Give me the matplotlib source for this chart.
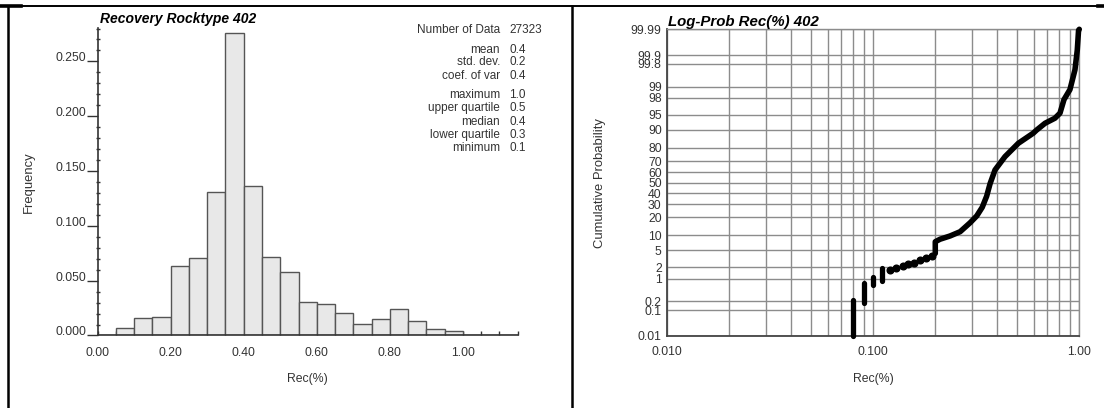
import numpy as np
import matplotlib
matplotlib.use("Agg")
import matplotlib.pyplot as plt
from matplotlib.lines import Line2D
from matplotlib.ticker import MultipleLocator, FixedLocator, NullLocator, NullFormatter, FormatStrFormatter
from statistics import NormalDist

plt.rcParams["font.family"] = ["Liberation Sans", "DejaVu Sans"]

# --- Histogramme : classes de 0.05 et fréquences relatives
bin_lo = np.round(np.arange(0.0, 1.15, 0.05), 2)
freq = [0.0005, 0.0071, 0.0163, 0.0172, 0.0638, 0.0705, 0.1309, 0.2762,
        0.1360, 0.0715, 0.0580, 0.0309, 0.0285, 0.0208, 0.0102, 0.0154,
        0.0239, 0.0130, 0.0062, 0.0038, 0.0, 0.0, 0.0]

stat_names = ["Number of Data", "mean", "std. dev.", "coef. of var",
              "maximum", "upper quartile", "median", "lower quartile", "minimum"]
stat_values = ["27323", "0.4", "0.2", "0.4", "1.0", "0.5", "0.4", "0.3", "0.1"]

# --- Log-prob : valeurs discrètes (paliers verticaux), points isolés, puis courbe continue
step_rec = [0.080, 0.090, 0.100, 0.110]
step_lo = [0.01, 0.17, 0.64, 0.87]
step_hi = [0.22, 0.73, 1.10, 1.90]

dot_rec = [0.120, 0.129, 0.139, 0.148, 0.158, 0.169, 0.180, 0.192]
dot_prob = [1.71, 1.89, 2.17, 2.39, 2.62, 3.05, 3.45, 3.78]

curve_rec = [0.200, 0.200, 0.211, 0.236, 0.264, 0.295, 0.318, 0.338, 0.355,
             0.369, 0.390, 0.436, 0.506, 0.598, 0.621, 0.682, 0.762, 0.806,
             0.843, 0.901, 0.953, 0.978, 0.992, 1.000]
curve_prob = [4.3, 7.6, 8.5, 9.8, 11.7, 16.5, 21.0, 27.5, 37.0,
              49.0, 62.1, 73.6, 83.0, 88.5, 89.9, 92.5, 94.1, 95.4,
              97.8, 98.8, 99.69, 99.935, 99.989, 99.99]

prob_ticks = [0.01, 0.1, 0.2, 1, 2, 5, 10, 20, 30, 40, 50, 60, 70, 80,
              90, 95, 98, 99, 99.8, 99.9, 99.99]
prob_labels = ["0.01", "0.1", "0.2", "1", "2", "5", "10", "20", "30", "40", "50",
               "60", "70", "80", "90", "95", "98", "99", "99.8", "99.9", "99.99"]

TXT = "#333333"
FS = 8.8
FS_LAB = 9.4

_nd = NormalDist()
_ppf = np.vectorize(_nd.inv_cdf, otypes=[float])
_cdf = np.vectorize(_nd.cdf, otypes=[float])


def prob_to_z(p):
    p = np.clip(np.asarray(p, dtype=float) / 100.0, 1e-7, 1 - 1e-7)
    return _ppf(p)


def z_to_prob(z):
    return _cdf(np.asarray(z, dtype=float)) * 100.0


fig = plt.figure(figsize=(11.04, 4.08), dpi=100)
fig.patch.set_facecolor("white")

# Cadre type tableau
line_kw = dict(color="black", transform=fig.transFigure)
fig.add_artist(Line2D([0, 1], [0.9853, 0.9853], lw=1.4, **line_kw))
fig.add_artist(Line2D([0, 0.019], [0.9853, 0.9853], lw=2.6, **line_kw))
fig.add_artist(Line2D([0.9945, 1], [0.9853, 0.9853], lw=2.6, **line_kw))
fig.add_artist(Line2D([0.0072, 0.0072], [0, 0.9853], lw=1.8, **line_kw))
fig.add_artist(Line2D([0.5177, 0.5177], [0, 0.9853], lw=1.8, **line_kw))

# ---------------- Histogramme
ax1 = fig.add_axes([0.0885, 0.1777, 0.3803, 0.7537])
ax1.bar(bin_lo, freq, width=0.05, align="edge", color="#e8e8e8",
        edgecolor="#555555", linewidth=1.0, zorder=2)
ax1.set_xlim(0, 1.15)
ax1.set_ylim(0, 0.2805)
for s in ["top", "right"]:
    ax1.spines[s].set_visible(False)
for s in ["left", "bottom"]:
    ax1.spines[s].set_color("#333333")
    ax1.spines[s].set_linewidth(1.2)
    ax1.spines[s].set_zorder(3)

ax1.xaxis.set_major_locator(MultipleLocator(0.2))
ax1.xaxis.set_minor_locator(MultipleLocator(0.05))
ax1.xaxis.set_major_formatter(FormatStrFormatter("%.2f"))
ax1.tick_params(axis="x", which="both", direction="in", length=3, width=1,
                color="#333333", labelsize=FS, labelcolor=TXT, pad=8.5)

ax1.yaxis.set_major_locator(MultipleLocator(0.05))
ax1.yaxis.set_minor_locator(MultipleLocator(0.01))
ax1.yaxis.set_major_formatter(FormatStrFormatter("%.3f"))
ax1.tick_params(axis="y", which="major", direction="out", length=8, width=1,
                color="#333333", labelsize=FS, labelcolor=TXT, pad=0)
ax1.tick_params(axis="y", which="minor", direction="inout", length=3.5, width=1,
                color="#333333")
for lab in ax1.get_yticklabels():
    lab.set_va("baseline")

ax1.set_ylabel("Frequency", fontsize=FS_LAB, color=TXT, va="center", ha="center")
ax1.yaxis.set_label_coords(-0.1637, 0.5)
ax1.set_xlabel("Rec(%)", fontsize=FS, color=TXT, va="center", ha="center")
ax1.xaxis.set_label_coords(0.5, -0.1415)
ax1.set_title("Recovery Rocktype 402", loc="left", fontsize=10, fontweight="bold",
              fontstyle="italic", pad=3.5, x=0.006)

row_y = [30, 50, 62.3, 76, 95, 108.3, 121.7, 135, 148.3]
for name, val, yp in zip(stat_names, stat_values, row_y):
    yf = (335.5 - yp) / 307.5
    ax1.text(0.9583, yf, name, transform=ax1.transAxes, ha="right", va="center",
             fontsize=8.5, color=TXT, clip_on=False)
    ax1.text(0.9805, yf, val, transform=ax1.transAxes, ha="left", va="center",
             fontsize=8.5, color=TXT, clip_on=False)

# ---------------- Log-probabilité
ax2 = fig.add_axes([0.6044, 0.1765, 0.3732, 0.7517])
ax2.set_xscale("log")
ax2.set_yscale("function", functions=(prob_to_z, z_to_prob))
ax2.set_xlim(0.01, 1.0)
ax2.set_ylim(0.01, 99.99)

ax2.xaxis.set_major_locator(FixedLocator([0.01, 0.1, 1.0]))
ax2.set_xticklabels(["0.010", "0.100", "1.00"])
ax2.xaxis.set_minor_locator(FixedLocator(
    [m * d for d in (0.01, 0.1) for m in range(2, 10)]))
ax2.xaxis.set_minor_formatter(NullFormatter())
ax2.yaxis.set_major_locator(FixedLocator(prob_ticks))
ax2.set_yticklabels(prob_labels)
ax2.yaxis.set_minor_locator(NullLocator())
ax2.tick_params(axis="both", which="both", length=0, labelsize=FS, labelcolor=TXT)
ax2.tick_params(axis="y", pad=4)
ax2.tick_params(axis="x", pad=7)

ax2.grid(True, which="both", color="#8c8c8c", linewidth=1.0, zorder=1)
ax2.set_axisbelow(True)
for s in ["top", "right"]:
    ax2.spines[s].set_color("#8c8c8c")
    ax2.spines[s].set_linewidth(1.0)
for s in ["left", "bottom"]:
    ax2.spines[s].set_color("#444444")
    ax2.spines[s].set_linewidth(1.3)

for xv, lo, hi in zip(step_rec, step_lo, step_hi):
    ax2.plot([xv, xv], [lo, hi], color="black", lw=3.8, solid_capstyle="round",
             zorder=4, clip_on=False)
ax2.plot(dot_rec, dot_prob, "o", color="black", ms=4.8, zorder=4)
ax2.plot(curve_rec, curve_prob, color="black", lw=4.0, solid_capstyle="round",
         solid_joinstyle="round", zorder=4, clip_on=False)

ax2.set_ylabel("Cumulative Probability", fontsize=FS_LAB, color=TXT, va="center", ha="center")
ax2.yaxis.set_label_coords(-0.163, 0.5)
ax2.set_xlabel("Rec(%)", fontsize=FS, color=TXT, va="center", ha="center")
ax2.xaxis.set_label_coords(0.5, -0.140)
ax2.set_title("Log-Prob Rec(%) 402", loc="left", fontsize=10.8, fontweight="bold",
              fontstyle="italic", pad=0.5, x=0.003)

fig.savefig("out.png", dpi=100, facecolor="white")
